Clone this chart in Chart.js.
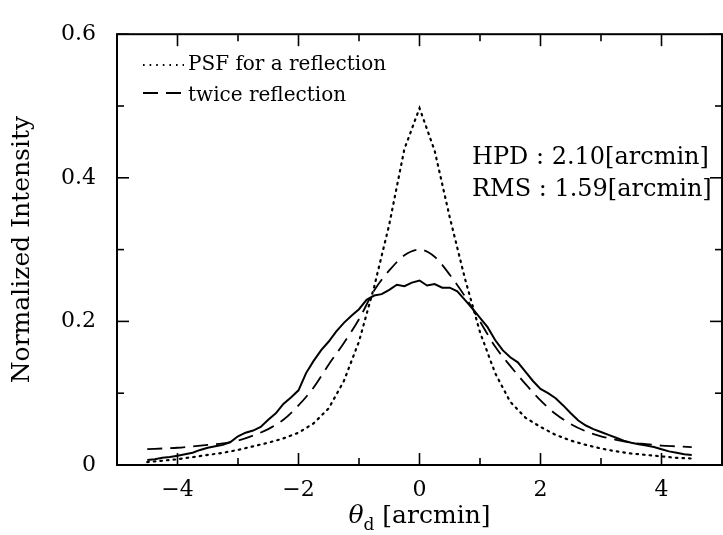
<!DOCTYPE html>
<html><head><meta charset="utf-8">
<script src="https://cdn.jsdelivr.net/npm/chart.js@4.4.0/dist/chart.umd.min.js"></script>
<style>html,body{margin:0;padding:0;background:#fff}#wrap{width:723px;height:535px}</style>
</head><body><div id="wrap"><canvas id="c" width="723" height="535"></canvas></div>
<script>
// ---- data ----
const xTitleMain = 'θ';
const xTitleSub = 'd';
const xTitleRest = ' [arcmin]';
const yAxisTitle = 'Normalized Intensity';
const xMajorTicks = [-4, -2, 0, 2, 4];
const xMinorTicks = [-3, -1, 1, 3];
const yMajorTicks = [0, 0.2, 0.4, 0.6];
const yMinorTicks = [0.1, 0.3, 0.5];
const noteLines = ['HPD : 2.10[arcmin]', 'RMS : 1.59[arcmin]'];

const modelX = [-4.5,-4.25,-4,-3.75,-3.5,-3.25,-3,-2.75,-2.5,-2.25,-2,-1.75,-1.5,-1.25,-1,-0.75,-0.5,-0.25,0,
                0.25,0.5,0.75,1,1.25,1.5,1.75,2,2.25,2.5,2.75,3,3.25,3.5,3.75,4,4.25,4.5];
const psfY = [0.004,0.006,0.008,0.011,0.014,0.017,0.021,0.026,0.031,0.037,0.045,0.058,0.079,0.117,0.172,0.248,0.335,0.44,0.497,
              0.438,0.345,0.26,0.185,0.128,0.088,0.066,0.053,0.042,0.034,0.028,0.023,0.019,0.016,0.014,0.012,0.010,0.009];
const twiceY = [0.022,0.023,0.024,0.026,0.028,0.030,0.034,0.041,0.050,0.063,0.083,0.108,0.140,0.170,0.203,0.243,0.271,0.292,0.300,
                0.290,0.265,0.235,0.200,0.165,0.138,0.113,0.090,0.071,0.057,0.047,0.040,0.035,0.031,0.029,0.027,0.026,0.025];

const measX = [-4.5,-4.375,-4.25,-4.125,-4,-3.875,-3.75,-3.625,-3.5,-3.375,-3.25,-3.125,-3,-2.875,-2.75,-2.625,-2.5,-2.375,-2.25,-2.125,
               -2,-1.875,-1.75,-1.625,-1.5,-1.375,-1.25,-1.125,-1,-0.875,-0.75,-0.625,-0.5,-0.375,-0.25,-0.125,0,
               0.125,0.25,0.375,0.5,0.625,0.75,0.875,1,1.125,1.25,1.375,1.5,1.625,1.75,1.875,2,2.125,2.25,2.375,2.5,2.625,
               2.75,2.875,3,3.125,3.25,3.375,3.5,3.625,3.75,3.875,4,4.125,4.25,4.375,4.5];
const measY = [0.007,0.008,0.010,0.011,0.013,0.015,0.017,0.021,0.024,0.026,0.028,0.032,0.040,0.045,0.048,0.053,0.063,0.072,0.085,0.094,
               0.104,0.128,0.145,0.160,0.172,0.186,0.198,0.208,0.217,0.230,0.236,0.238,0.244,0.251,0.249,0.254,0.257,
               0.250,0.252,0.247,0.247,0.242,0.230,0.218,0.205,0.192,0.174,0.160,0.150,0.143,0.130,0.117,0.106,0.100,0.093,0.083,0.072,0.062,
               0.055,0.050,0.046,0.042,0.038,0.034,0.031,0.029,0.027,0.025,0.022,0.019,0.017,0.015,0.014];

const seriesLabels = ['PSF for a reflection', 'twice reflection', 'measured'];

// ---- chart ----
const SERIF = 'DejaVu Serif';
const pts = (xs, ys) => xs.map((x, i) => ({x: x, y: ys[i]}));

const framePlugin = {
  id: 'frame',
  afterDatasetsDraw(chart) {
    const {ctx, chartArea: {left, right, top, bottom}, scales: {x, y}} = chart;
    ctx.save();
    ctx.strokeStyle = '#000';
    ctx.lineWidth = 2;
    ctx.strokeRect(left, top, right - left, bottom - top);
    ctx.lineWidth = 1.6;
    const seg = (a, b, c, d) => { ctx.beginPath(); ctx.moveTo(a, b); ctx.lineTo(c, d); ctx.stroke(); };
    const MJ = 12, MN = 7;
    xMajorTicks.forEach(v => { const p = x.getPixelForValue(v); seg(p, bottom, p, bottom - MJ); seg(p, top, p, top + MJ); });
    xMinorTicks.forEach(v => { const p = x.getPixelForValue(v); seg(p, bottom, p, bottom - MN); seg(p, top, p, top + MN); });
    yMajorTicks.forEach(v => { const p = y.getPixelForValue(v); seg(left, p, left + MJ, p); seg(right, p, right - MJ, p); });
    yMinorTicks.forEach(v => { const p = y.getPixelForValue(v); seg(left, p, left + MN, p); seg(right, p, right - MN, p); });
    ctx.restore();
  },
  afterDraw(chart) {
    const {ctx, scales: {x, y}} = chart;
    ctx.save();
    ctx.fillStyle = '#000';
    ctx.strokeStyle = '#000';
    // legend (inside plot)
    const ds = chart.data.datasets;
    const lx0 = 143, lx1 = 184, tx = 188;
    const rows = [{i: 0, ly: 65, ty: 65}, {i: 1, ly: 93, ty: 96}];
    rows.forEach(r => {
      const d = ds[r.i];
      ctx.lineWidth = d.borderWidth;
      ctx.setLineDash(d.borderDash || []);
      ctx.beginPath(); ctx.moveTo(lx0, r.ly); ctx.lineTo(lx1, r.ly); ctx.stroke();
      ctx.setLineDash([]);
      ctx.font = '20px "' + SERIF + '"';
      ctx.textBaseline = 'middle';
      ctx.textAlign = 'left';
      ctx.fillText(d.label, tx, r.ty);
    });
    // annotation
    ctx.font = '24px "' + SERIF + '"';
    ctx.fillText(noteLines[0], 472, 158);
    ctx.fillText(noteLines[1], 472, 190);
    // x axis title with subscript
    ctx.textBaseline = 'alphabetic';
    const f1 = 'italic 25px "' + SERIF + '"', f2 = '17px "' + SERIF + '"', f3 = '25px "' + SERIF + '"';
    ctx.font = f1; const w1 = ctx.measureText(xTitleMain).width;
    ctx.font = f2; const w2 = ctx.measureText(xTitleSub).width;
    ctx.font = f3; const w3 = ctx.measureText(xTitleRest).width;
    const cx = x.getPixelForValue(0);
    let sx = cx - (w1 + w2 + w3) / 2;
    const base = 523;
    ctx.font = f1; ctx.fillText(xTitleMain, sx, base); sx += w1;
    ctx.font = f2; ctx.fillText(xTitleSub, sx, base + 7); sx += w2;
    ctx.font = f3; ctx.fillText(xTitleRest, sx, base);
    ctx.restore();
  }
};

new Chart(document.getElementById('c'), {
  type: 'line',
  data: {
    datasets: [
      {label: seriesLabels[0], data: pts(modelX, psfY), borderColor: '#000', borderWidth: 2.2, borderDash: [1.6, 5], borderCapStyle: 'round', pointRadius: 0, tension: 0, fill: false},
      {label: seriesLabels[1], data: pts(modelX, twiceY), borderColor: '#000', borderWidth: 1.8, borderDash: [15, 8], pointRadius: 0, cubicInterpolationMode: 'monotone', fill: false},
      {label: seriesLabels[2], data: pts(measX, measY), borderColor: '#000', borderWidth: 2, pointRadius: 0, tension: 0, fill: false}
    ]
  },
  options: {
    responsive: false,
    animation: false,
    devicePixelRatio: 1,
    layout: {padding: {top: 18, right: 1, left: 0, bottom: 0}},
    plugins: {legend: {display: false}, tooltip: {enabled: false}},
    scales: {
      x: {
        type: 'linear', min: -5, max: 5,
        afterBuildTicks: s => { s.ticks = xMajorTicks.map(v => ({value: v})); },
        afterFit: s => { s.height = 70; },
        grid: {display: false, drawTicks: false},
        border: {display: false},
        ticks: {
          padding: 12, color: '#000', font: {family: SERIF, size: 22},
          maxRotation: 0, autoSkip: false,
          callback: v => (v < 0 ? '\u2212' + Math.abs(v) : String(v))
        },
        title: {display: false}
      },
      y: {
        type: 'linear', min: 0, max: 0.6,
        afterBuildTicks: s => { s.ticks = yMajorTicks.map(v => ({value: v})); },
        afterFit: s => { s.width = 117; },
        grid: {display: false, drawTicks: false},
        border: {display: false},
        ticks: {
          padding: 21, color: '#000', font: {family: SERIF, size: 22},
          callback: v => (v === 0 ? '0' : v.toFixed(1))
        },
        title: {display: true, text: yAxisTitle, color: '#000', font: {family: SERIF, size: 25}, padding: {top: 7, bottom: 0}}
      }
    }
  },
  plugins: [framePlugin]
});
</script>
</body></html>
